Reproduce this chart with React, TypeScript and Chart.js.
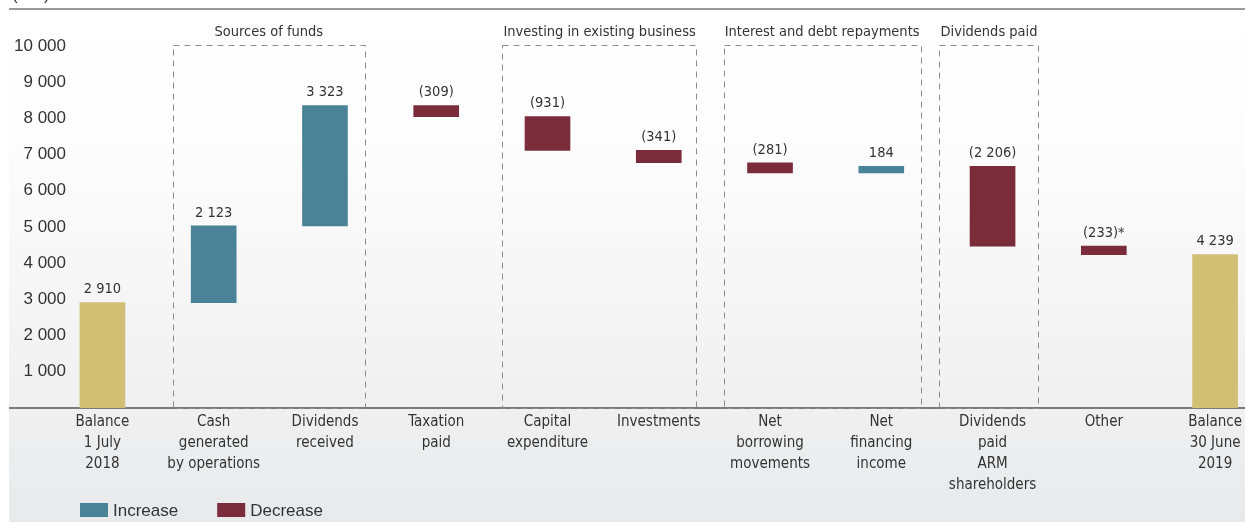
import React, { useEffect, useRef } from "react";
import { Chart, registerables } from "chart.js";

Chart.register(...registerables);

// ---------- data ----------
const categories: string[][] = [
  ["Balance", "1 July", "2018"],
  ["Cash", "generated", "by operations"],
  ["Dividends", "received"],
  ["Taxation", "paid"],
  ["Capital", "expenditure"],
  ["Investments"],
  ["Net", "borrowing", "movements"],
  ["Net", "financing", "income"],
  ["Dividends", "paid", "ARM", "shareholders"],
  ["Other"],
  ["Balance", "30 June", "2019"],
];
const amounts = [2910, 2123, 3323, -309, -931, -341, -281, 184, -2206, -233, 4239];
const kinds = ["balance", "change", "change", "change", "change", "change", "change", "change", "change", "change", "balance"];
const labelNotes = ["", "", "", "", "", "", "", "", "", "*", ""];

const groupNames = ["Sources of funds", "Investing in existing business", "Interest and debt repayments", "Dividends paid"];
const groupFirst = [1, 4, 6, 8];
const groupLast = [2, 5, 7, 8];

const yMin = 0;
const yMax = 10000;
const yStep = 1000;

const seriesNames = ["Balance", "Increase", "Decrease"];
const seriesColors = ["#d1bf74", "#4a8398", "#7b2c3b"];
const seriesInLegend = [false, true, true];

// ---------- style ----------
const NARROW = "'Liberation Sans Narrow', 'Arial Narrow', 'DejaVu Sans Condensed', sans-serif";
const REGULAR = "'Liberation Sans', Arial, sans-serif";
const TEXT = "#333333";

function fmtNum(n: number): string {
  const s = Math.round(Math.abs(n)).toString();
  return s.replace(/\B(?=(\d{3})+(?!\d))/g, " ");
}
function fmtLabel(n: number, note: string): string {
  return (n < 0 ? "(" + fmtNum(n) + ")" : fmtNum(n)) + note;
}

export default function App() {
  const ref = useRef<HTMLCanvasElement>(null);

  useEffect(() => {
    if (!ref.current) return;

    // build floating bars
    let running = 0;
    const floats: [number, number][] = [];
    amounts.forEach((a, i) => {
      if (kinds[i] === "balance") {
        floats.push([0, a]);
        running = a;
      } else {
        floats.push([running, running + a]);
        running += a;
      }
    });
    const seriesOf = (i: number) => (kinds[i] === "balance" ? 0 : amounts[i] >= 0 ? 1 : 2);

    const datasets = seriesNames.map((name, s) => ({
      label: name,
      backgroundColor: seriesColors[s],
      inLegend: seriesInLegend[s],
      data: floats
        .map((f, i) => ({ x: i, y: f, idx: i }))
        .filter((p) => seriesOf(p.idx) === s),
      barThickness: 45,
      grouped: false,
      borderWidth: 0,
    }));

    const backgroundPlugin = {
      id: "bg",
      beforeDraw(chart: any) {
        const ctx = chart.ctx;
        const W = chart.width;
        const H = chart.height;
        ctx.save();
        ctx.fillStyle = "#ffffff";
        ctx.fillRect(0, 0, W, H);
        const g = ctx.createLinearGradient(0, 9, 0, H);
        g.addColorStop(0, "#ffffff");
        g.addColorStop(0.25, "#fdfdfd");
        g.addColorStop(0.78, "#f0f0f1");
        g.addColorStop(1, "#e8e9ea");
        ctx.fillStyle = g;
        ctx.fillRect(9, 9, W - 9, H - 9);
        // unit text cut at top
        ctx.fillStyle = TEXT;
        ctx.font = "17px " + REGULAR;
        ctx.textAlign = "left";
        ctx.textBaseline = "alphabetic";
        ctx.fillText("(Rm)", 12, 0);
        // top rule
        ctx.strokeStyle = "#9a9a9a";
        ctx.lineWidth = 2;
        ctx.beginPath();
        ctx.moveTo(9, 9);
        ctx.lineTo(W, 9);
        ctx.stroke();
        ctx.restore();
      },
      beforeDatasetsDraw(chart: any) {
        const ctx = chart.ctx;
        const xs = chart.scales.x;
        const ys = chart.scales.y;
        const base = ys.getPixelForValue(0);
        ctx.save();
        // axis line
        ctx.strokeStyle = "#7a7a7a";
        ctx.lineWidth = 2;
        ctx.beginPath();
        ctx.moveTo(9, base);
        ctx.lineTo(chart.width, base);
        ctx.stroke();
        // group boxes
        const top = ys.getPixelForValue(yMax) - 1;
        ctx.font = "14.5px " + NARROW;
        groupNames.forEach((name, gi) => {
          const l0 = xs.getPixelForValue(groupFirst[gi] - 0.37);
          const r0 = xs.getPixelForValue(groupLast[gi] + 0.36);
          const tw = ctx.measureText(name).width;
          let l = l0;
          let r = r0;
          if (tw + 2 > r0 - l0) {
            const c = (l0 + r0) / 2 - 3;
            l = c - (tw + 2) / 2;
            r = c + (tw + 2) / 2;
          }
          ctx.strokeStyle = "#8c8c8c";
          ctx.lineWidth = 1;
          ctx.setLineDash([6, 5]);
          ctx.strokeRect(Math.round(l) + 0.5, Math.round(top) + 0.5, Math.round(r - l), Math.round(base - top));
          ctx.setLineDash([]);
          ctx.fillStyle = TEXT;
          ctx.textAlign = "center";
          ctx.textBaseline = "middle";
          ctx.fillText(name, (l + r) / 2, top - 13);
        });
        ctx.restore();
      },
      afterDatasetsDraw(chart: any) {
        const ctx = chart.ctx;
        ctx.save();
        ctx.font = "14.5px " + NARROW;
        ctx.fillStyle = TEXT;
        ctx.textAlign = "center";
        ctx.textBaseline = "middle";
        chart.data.datasets.forEach((ds: any, di: number) => {
          const meta = chart.getDatasetMeta(di);
          meta.data.forEach((el: any, j: number) => {
            const idx = ds.data[j].idx;
            const topPx = Math.min(el.y, el.base);
            ctx.fillText(fmtLabel(amounts[idx], labelNotes[idx]), el.x, topPx - 13);
          });
        });
        ctx.restore();
      },
      afterDraw(chart: any) {
        const ctx = chart.ctx;
        ctx.save();
        ctx.font = "17px " + REGULAR;
        ctx.textAlign = "left";
        ctx.textBaseline = "middle";
        let x = 80;
        const yC = 510;
        chart.data.datasets.forEach((ds: any) => {
          if (!ds.inLegend) return;
          ctx.fillStyle = ds.backgroundColor;
          ctx.fillRect(x, yC - 7, 28, 14);
          ctx.fillStyle = TEXT;
          ctx.fillText(ds.label, x + 33, yC + 1);
          x += 33 + ctx.measureText(ds.label).width + 39;
        });
        ctx.restore();
      },
    };

    const chart = new Chart(ref.current, {
      type: "bar",
      data: { datasets: datasets as any },
      options: {
        animation: false,
        responsive: false,
        maintainAspectRatio: false,
        parsing: { xAxisKey: "x", yAxisKey: "y" } as any,
        layout: { padding: { top: 46, left: 0, right: 0, bottom: 0 } },
        plugins: {
          legend: { display: false },
          tooltip: { enabled: false },
        },
        scales: {
          x: {
            type: "linear",
            offset: false,
            min: -0.2915,
            max: 10.247,
            grid: { display: false, drawTicks: false },
            border: { display: false },
            afterBuildTicks: (scale: any) => {
              scale.ticks = categories.map((_, i) => ({ value: i }));
            },
            afterFit: (scale: any) => {
              scale.height = 114;
            },
            ticks: {
              autoSkip: false,
              maxRotation: 0,
              minRotation: 0,
              padding: 3,
              color: TEXT,
              font: { family: NARROW, size: 15, lineHeight: 1.42 },
              callback: (v: any) => categories[v] ?? "",
            },
          },
          y: {
            type: "linear",
            min: yMin,
            max: yMax,
            grid: { display: false, drawTicks: false },
            border: { display: false },
            afterFit: (scale: any) => {
              scale.width = 70;
            },
            ticks: {
              stepSize: yStep,
              padding: 4,
              color: TEXT,
              font: { family: REGULAR, size: 17 },
              callback: (v: any) => (v === 0 ? "" : fmtNum(v)),
            },
          },
        },
      },
      plugins: [backgroundPlugin],
    });
    return () => chart.destroy();
  }, []);

  return (
    <div style={{ position: "absolute", left: 0, top: 0, width: 1245, height: 522 }}>
      <canvas ref={ref} width={1245} height={522} style={{ width: 1245, height: 522, display: "block" }} />
    </div>
  );
}
